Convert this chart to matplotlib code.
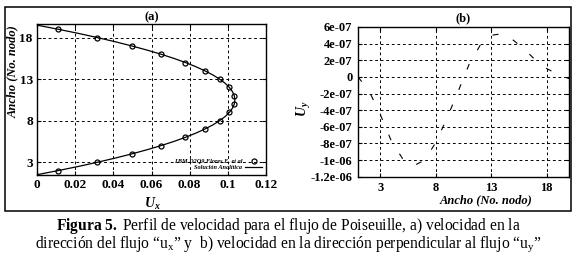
import matplotlib
matplotlib.use("Agg")
import matplotlib.pyplot as plt
from matplotlib.patches import Rectangle

plt.rcParams['font.family'] = ['Liberation Serif', 'DejaVu Serif']
plt.rcParams['mathtext.fontset'] = 'custom'
plt.rcParams['mathtext.rm'] = 'Liberation Serif'
plt.rcParams['mathtext.it'] = 'Liberation Serif:italic'
plt.rcParams['mathtext.bf'] = 'Liberation Serif:bold'
plt.rcParams['mathtext.bfit'] = 'Liberation Serif:italic:bold'
plt.rcParams['lines.scale_dashes'] = False

# ---- panel (a) data ----
node_lbm = [2, 3, 4, 5, 6, 7, 8, 9, 10, 11, 12, 13, 14, 15, 16, 17, 18, 19]
ux_lbm = [0.0112, 0.0317, 0.0496, 0.0650, 0.0778, 0.0880, 0.0957, 0.1008, 0.1034,
          0.1034, 0.1008, 0.0957, 0.0880, 0.0778, 0.0650, 0.0496, 0.0317, 0.0112]
node_ana = [1.5, 2.0, 2.5, 3.0, 3.5, 4.0, 4.5, 5.0, 5.5, 6.0, 6.5, 7.0, 7.5, 8.0, 8.5,
            9.0, 9.5, 10.0, 10.5, 11.0, 11.5, 12.0, 12.5, 13.0, 13.5, 14.0, 14.5, 15.0,
            15.5, 16.0, 16.5, 17.0, 17.5, 18.0, 18.5, 19.0, 19.5]
ux_ana = [0.0, 0.0112, 0.0218, 0.0317, 0.0410, 0.0496, 0.0576, 0.0650, 0.0717, 0.0778,
          0.0832, 0.0880, 0.0922, 0.0957, 0.0986, 0.1008, 0.1024, 0.1034, 0.1037, 0.1034,
          0.1024, 0.1008, 0.0986, 0.0957, 0.0922, 0.0880, 0.0832, 0.0778, 0.0717, 0.0650,
          0.0576, 0.0496, 0.0410, 0.0317, 0.0218, 0.0112, 0.0]
xticks_a = [0, 0.02, 0.04, 0.06, 0.08, 0.1, 0.12]
xticklabels_a = ['0', '0.02', '0.04', '0.06', '0.08', '0.1', '0.12']
yticks_a = [3, 8, 13, 18]

# ---- panel (b) data ----
node_b = [1, 2, 3, 4, 5, 6, 7, 8, 9, 10, 11, 12, 13, 14, 15, 16, 17, 18, 19, 20]
uy_b = [0.0, -1.7e-07, -4.5e-07, -7.7e-07, -9.8e-07, -1.07e-06, -1.0e-06, -7.9e-07,
        -5.0e-07, -1.8e-07, 1.5e-07, 3.8e-07, 5.0e-07, 5.2e-07, 4.4e-07, 3.3e-07,
        2.0e-07, 1.0e-07, 0.3e-07, -0.2e-07]
xticks_b = [3, 8, 13, 18]
yticks_b = [6e-07, 4e-07, 2e-07, 0, -2e-07, -4e-07, -6e-07, -8e-07, -1e-06, -1.2e-06]
yticklabels_b = ['6e-07', '4e-07', '2e-07', '0', '-2e-07', '-4e-07', '-6e-07',
                 '-8e-07', '-1e-06', '-1.2e-06']

W, H = 576, 259
fig = plt.figure(figsize=(W / 100, H / 100), dpi=100)


def fx(px):
    return px / W


def fy(py):
    return 1 - py / H


grid_kw = dict(color='black', linestyle=(0, (2, 2)), linewidth=0.7)

# panel (a)
ax1 = fig.add_axes([fx(37), fy(174.7), fx(266) - fx(37), fy(24.3) - fy(174.7)])
ax1.plot(ux_ana, node_ana, color='black', linewidth=0.9, label='Solución Analítica')
ax1.plot(ux_lbm, node_lbm, linestyle='none', marker='o', markersize=3.6,
         markerfacecolor='none', markeredgecolor='black', markeredgewidth=0.9,
         label='LBM D2Q9 Flores E. et al')
ax1.set_xlim(0, 0.12)
ax1.set_ylim(1.5, 19.6)
ax1.set_xticks(xticks_a)
ax1.set_xticklabels(xticklabels_a)
ax1.set_yticks(yticks_a)
ax1.grid(True, **grid_kw)
ax1.set_title('(a)', fontsize=9, fontweight='bold', pad=3)
h, l = ax1.get_legend_handles_labels()
leg = ax1.legend([h[1], h[0]], [l[1], l[0]], loc='lower right', frameon=False,
                 prop=dict(size=4.5, weight='bold', style='italic'),
                 handlelength=2.6, markerfirst=False, borderaxespad=0.3,
                 labelspacing=0.2, handletextpad=0.5)

# panel (b)
ax2 = fig.add_axes([fx(358), fy(176.7), fx(569) - fx(358), fy(27) - fy(176.7)])
ln, = ax2.plot(node_b, uy_b, color='black', linewidth=0.8)
ln.set_dashes((4.3, 11.5))
ax2.set_xlim(1, 20)
ax2.set_ylim(-1.2e-06, 6e-07)
ax2.set_xticks(xticks_b)
ax2.set_yticks(yticks_b)
ax2.set_yticklabels(yticklabels_b)
ax2.grid(True, **grid_kw)
ax2.set_title('(b)', fontsize=9, fontweight='bold', pad=4)

for ax, fs, pd in ((ax1, 9.5, 3), (ax2, 9, 4)):
    ax.tick_params(direction='in', top=True, right=True, length=3, width=0.8,
                   pad=pd)
    for lab in ax.get_xticklabels() + ax.get_yticklabels():
        lab.set_fontweight('bold')
        lab.set_fontsize(fs)
    for s in ax.spines.values():
        s.set_linewidth(1.0)

# axis labels
fig.text(fx(152), fy(204), r'$\mathbfit{U_x}$', fontsize=10, ha='center', va='center')
fig.text(fx(13), fy(72), 'Ancho (No. nodo)', fontsize=9, fontweight='bold',
         style='italic', rotation=90, ha='center', va='center')
fig.text(fx(486), fy(200), 'Ancho (No. nodo)', fontsize=9, fontweight='bold',
         style='italic', ha='center', va='center')
fig.text(fx(304), fy(109), r'$\mathbfit{U_y}$', fontsize=10, rotation=90,
         ha='center', va='center')

# frame box
fig.patches.append(Rectangle((fx(5), fy(211)), fx(571) - fx(5), fy(7) - fy(211),
                             transform=fig.transFigure, fill=False,
                             edgecolor='black', linewidth=1.1))

# caption
fig.text(0.5, fy(226),
         r'$\mathbf{Figura\ 5.}$ Perfil de velocidad para el flujo de Poiseuille, a) velocidad en la',
         fontsize=11.2, ha='center', va='center')
fig.text(0.5, fy(244),
         r'dirección del flujo “$\mathrm{u}_\mathrm{x}$” y  b) velocidad en la dirección perpendicular al flujo “$\mathrm{u}_\mathrm{y}$”',
         fontsize=11.2, ha='center', va='center')

fig.savefig('out.png', dpi=100)
